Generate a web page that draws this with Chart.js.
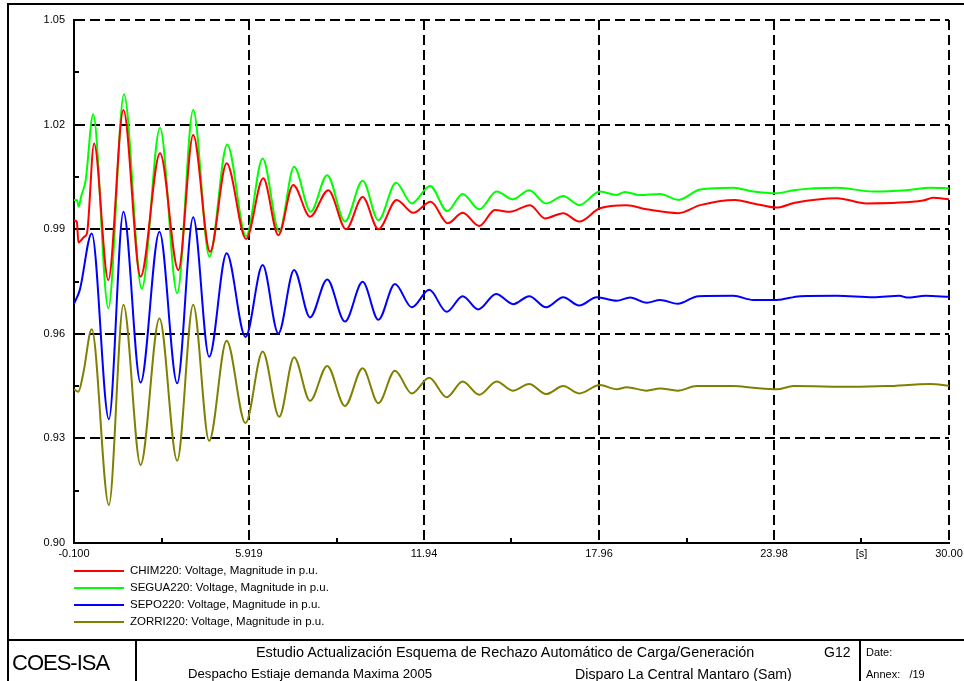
<!DOCTYPE html>
<html>
<head>
<meta charset="utf-8">
<script src="https://cdn.jsdelivr.net/npm/chart.js@4.4.1/dist/chart.umd.min.js"></script>
<style>
body{margin:0;background:#fff;}
#hoja{position:relative;width:964px;height:681px;overflow:hidden;font-family:"Liberation Sans",Arial,sans-serif;color:#000;}
#grafica{position:absolute;left:0;top:0;}
.linea{position:absolute;background:#000;}
.txt{position:absolute;white-space:nowrap;line-height:1;}
</style>
</head>
<body>
<div id="hoja">
  <canvas id="grafica" width="964" height="681"></canvas>
  <div class="linea" style="left:7px;top:3px;width:957px;height:2px"></div>
  <div class="linea" style="left:7px;top:3px;width:2px;height:678px"></div>
  <div class="linea" style="left:7px;top:639px;width:957px;height:2px"></div>
  <div class="linea" style="left:135px;top:639px;width:2px;height:42px"></div>
  <div class="linea" style="left:859px;top:639px;width:2px;height:42px"></div>
  <div class="txt" style="left:12px;top:652px;font-size:22px;letter-spacing:-1px">COES-ISA</div>
  <div class="txt" style="left:256px;top:645px;font-size:14.4px">Estudio Actualización Esquema de Rechazo Automático de Carga/Generación</div>
  <div class="txt" style="left:824px;top:645px;font-size:14px">G12</div>
  <div class="txt" style="left:188px;top:667px;font-size:13.2px">Despacho Estiaje demanda Maxima 2005</div>
  <div class="txt" style="left:575px;top:667px;font-size:14.2px">Disparo La Central Mantaro (Sam)</div>
  <div class="txt" style="left:866px;top:647px;font-size:11px">Date:</div>
  <div class="txt" style="left:866px;top:669px;font-size:11px">Annex:&nbsp;&nbsp;&nbsp;/19</div>
</div>
<script>
// tiempos en segundos y tensiones en p.u. de cada barra
var chimT = [-0.1, 0.0, 0.05, 0.25, 0.35, 0.59, 1.08, 1.60, 2.19, 2.86, 3.49, 4.00, 4.58, 5.15, 5.82, 6.41, 6.93, 7.44, 8.02, 8.65, 9.26, 9.83, 10.37, 11.00, 11.57, 12.17, 12.76, 13.27, 13.84, 14.38, 14.90, 15.59, 16.10, 16.73, 17.28, 17.99, 18.91, 19.60, 20.69, 21.44, 22.64, 23.27, 24.07, 24.70, 26.14, 27.17, 29.11, 29.45, 30.0];
var chimV = [0.9926, 0.9920, 0.9862, 0.9878, 0.9890, 1.0146, 0.9754, 1.0242, 0.9764, 1.0118, 0.9783, 1.0170, 0.9835, 1.0089, 0.9872, 1.0046, 0.9883, 1.0027, 0.9936, 1.0012, 0.9900, 0.9992, 0.9900, 0.9984, 0.9947, 0.9979, 0.9917, 0.9947, 0.9909, 0.9955, 0.9950, 0.9969, 0.9931, 0.9946, 0.9922, 0.9960, 0.9969, 0.9957, 0.9946, 0.9969, 0.9984, 0.9974, 0.9962, 0.9976, 0.9989, 0.9974, 0.9982, 0.9990, 0.9986];

var seguaT = [-0.1, 0.0, 0.06, 0.15, 0.30, 0.56, 1.08, 1.62, 2.23, 2.86, 3.45, 4.00, 4.56, 5.17, 5.82, 6.39, 6.96, 7.47, 8.04, 8.61, 9.22, 9.83, 10.37, 10.98, 11.52, 12.15, 12.74, 13.27, 13.84, 14.44, 14.99, 15.56, 16.14, 16.73, 17.28, 17.99, 18.57, 18.85, 19.37, 20.06, 20.69, 21.44, 22.58, 23.27, 24.07, 24.65, 26.14, 27.40, 28.55, 29.35, 30.0];
var seguaV = [0.9984, 0.9984, 0.9965, 0.9995, 1.0040, 1.0230, 0.9673, 1.0287, 0.9729, 1.0191, 0.9716, 1.0242, 0.9821, 1.0143, 0.9880, 1.0103, 0.9893, 1.0079, 0.9950, 1.0055, 0.9922, 1.0039, 0.9926, 1.0033, 0.9974, 1.0024, 0.9952, 1.0001, 0.9957, 1.0008, 0.9986, 1.0012, 0.9974, 0.9995, 0.9969, 1.0008, 0.9998, 1.0007, 0.9998, 1.0001, 0.9984, 1.0014, 1.0019, 1.0008, 1.0003, 1.0012, 1.0019, 1.0008, 1.0012, 1.0019, 1.0017];

var sepoT = [-0.1, 0.10, 0.51, 1.10, 1.60, 2.19, 2.84, 3.45, 4.00, 4.55, 5.15, 5.80, 6.39, 6.93, 7.47, 8.02, 8.61, 9.22, 9.83, 10.37, 10.94, 11.52, 12.12, 12.72, 13.27, 13.81, 14.42, 15.01, 15.56, 16.14, 16.73, 17.28, 17.88, 18.57, 19.03, 19.60, 20.06, 20.67, 21.38, 22.58, 23.27, 24.07, 24.88, 26.14, 27.40, 28.30, 28.55, 29.20, 30.0];
var sepoV = [0.9686, 0.9726, 0.9888, 0.9355, 0.9950, 0.9460, 0.9893, 0.9458, 0.9934, 0.9534, 0.9831, 0.9591, 0.9797, 0.9601, 0.9783, 0.9647, 0.9756, 0.9635, 0.9749, 0.9640, 0.9743, 0.9676, 0.9726, 0.9663, 0.9708, 0.9670, 0.9714, 0.9685, 0.9708, 0.9676, 0.9705, 0.9681, 0.9705, 0.9695, 0.9704, 0.9689, 0.9697, 0.9686, 0.9708, 0.9709, 0.9697, 0.9697, 0.9708, 0.9709, 0.9705, 0.9709, 0.9704, 0.9709, 0.9706];

var zorriT = [-0.1, 0.05, 0.22, 0.51, 1.10, 1.60, 2.19, 2.84, 3.45, 4.00, 4.55, 5.15, 5.80, 6.39, 6.96, 7.47, 8.02, 8.61, 9.22, 9.83, 10.37, 10.94, 11.52, 12.12, 12.72, 13.27, 13.84, 14.44, 14.99, 15.56, 16.14, 16.73, 17.28, 17.99, 18.57, 18.91, 19.60, 20.06, 20.67, 21.32, 22.58, 23.27, 24.07, 24.65, 26.70, 27.85, 29.35, 30.0];
var zorriV = [0.9441, 0.9434, 0.9487, 0.9613, 0.9109, 0.9683, 0.9224, 0.9644, 0.9236, 0.9683, 0.9293, 0.9580, 0.9344, 0.9549, 0.9362, 0.9533, 0.9408, 0.9508, 0.9393, 0.9501, 0.9401, 0.9494, 0.9429, 0.9474, 0.9418, 0.9463, 0.9425, 0.9463, 0.9437, 0.9456, 0.9427, 0.9450, 0.9429, 0.9453, 0.9441, 0.9447, 0.9437, 0.9443, 0.9437, 0.9450, 0.9450, 0.9445, 0.9441, 0.9450, 0.9448, 0.9450, 0.9456, 0.9451];

var nombres = ['CHIM220: Voltage, Magnitude in p.u.', 'SEGUA220: Voltage, Magnitude in p.u.', 'SEPO220: Voltage, Magnitude in p.u.', 'ZORRI220: Voltage, Magnitude in p.u.'];
var colores = ['#ff0000', '#00ff00', '#0000ff', '#808000'];

// marcas del eje x (las vacias son las divisiones menores)
var xMarcas = [-0.1, 2.91, 5.919, 8.93, 11.94, 14.95, 17.96, 20.97, 23.98, 26.99, 30.0];
var xEtiquetas = ['-0.100', '', '5.919', '', '11.94', '', '17.96', '', '23.98', '[s]', '30.00'];
var yMarcas = [0.90, 0.915, 0.93, 0.945, 0.96, 0.975, 0.99, 1.005, 1.02, 1.035, 1.05];
var yEtiquetas = ['0.90', '', '0.93', '', '0.96', '', '0.99', '', '1.02', '', '1.05'];

function puntos(t, v){
    var lista = [];
    for(var i = 0; i < t.length; i++){
        lista.push({x: t[i], y: v[i]});
    }
    return lista;
}

function esMayor(etiquetas, i){
    return etiquetas[i] !== '' && etiquetas[i] !== '[s]';
}

// divisiones menores hacia dentro y leyenda de curvas
const extras = {
    id: 'extras',
    afterDraw(chart){
        const ctx = chart.ctx;
        const area = chart.chartArea;
        const sx = chart.scales.x, sy = chart.scales.y;
        ctx.save();
        ctx.strokeStyle = '#000';
        ctx.lineWidth = 2;
        ctx.beginPath();
        xMarcas.forEach(function(v, i){
            if(esMayor(xEtiquetas, i)) return;
            const px = Math.round(sx.getPixelForValue(v));
            ctx.moveTo(px, area.bottom);
            ctx.lineTo(px, area.bottom - 5);
        });
        yMarcas.forEach(function(v, i){
            if(yEtiquetas[i] !== '') return;
            const py = Math.round(sy.getPixelForValue(v));
            ctx.moveTo(area.left, py);
            ctx.lineTo(area.left + 5, py);
        });
        ctx.stroke();

        ctx.font = '11.5px "Liberation Sans", Arial, sans-serif';
        ctx.textBaseline = 'middle';
        ctx.fillStyle = '#000';
        chart.data.datasets.forEach(function(ds, i){
            const y = area.bottom + 28 + i * 17;
            ctx.strokeStyle = ds.borderColor;
            ctx.lineWidth = 2;
            ctx.beginPath();
            ctx.moveTo(area.left, y);
            ctx.lineTo(area.left + 50, y);
            ctx.stroke();
            ctx.fillText(ds.label, area.left + 56, y);
        });
        ctx.restore();
    }
};

var series = [[chimT, chimV], [seguaT, seguaV], [sepoT, sepoV], [zorriT, zorriV]];
var datasets = series.map(function(s, i){
    return {
        label: nombres[i],
        data: puntos(s[0], s[1]),
        borderColor: colores[i],
        backgroundColor: colores[i],
        borderWidth: 2,
        pointRadius: 0,
        fill: false,
        cubicInterpolationMode: 'monotone'
    };
});

const ctx = document.getElementById('grafica').getContext('2d');
const chart = new Chart(ctx, {
    type: 'line',
    data: { datasets: datasets },
    options: {
        responsive: false,
        animation: false,
        devicePixelRatio: 1,
        layout: { padding: { left: 0, top: 20, right: 0, bottom: 0 } },
        plugins: { legend: { display: false }, tooltip: { enabled: false } },
        scales: {
            x: {
                type: 'linear',
                min: -0.1,
                max: 30.0,
                afterBuildTicks: function(scale){
                    scale.ticks = xMarcas.map(function(v){ return {value: v}; });
                },
                afterFit: function(scale){
                    scale.height = 138;
                    scale.paddingLeft = 0;
                    scale.paddingRight = 15;
                },
                ticks: {
                    autoSkip: false,
                    maxRotation: 0,
                    padding: 4,
                    color: '#000',
                    font: { family: '"Liberation Sans", Arial, sans-serif', size: 11 },
                    callback: function(v, i){ return xEtiquetas[i]; }
                },
                grid: {
                    drawTicks: false,
                    lineWidth: 2,
                    color: function(c){ return esMayor(xEtiquetas, c.index) ? '#000' : 'rgba(0,0,0,0)'; }
                },
                border: { display: true, color: '#000', width: 2, dash: [10, 5] }
            },
            y: {
                min: 0.90,
                max: 1.05,
                afterBuildTicks: function(scale){
                    scale.ticks = yMarcas.map(function(v){ return {value: v}; });
                },
                afterFit: function(scale){ scale.width = 74; },
                ticks: {
                    autoSkip: false,
                    padding: 9,
                    color: '#000',
                    font: { family: '"Liberation Sans", Arial, sans-serif', size: 11 },
                    callback: function(v, i){ return yEtiquetas[i]; }
                },
                grid: {
                    drawTicks: false,
                    lineWidth: 2,
                    color: function(c){ return yEtiquetas[c.index] !== '' ? '#000' : 'rgba(0,0,0,0)'; }
                },
                border: { display: true, color: '#000', width: 2, dash: [10, 5] }
            }
        }
    },
    plugins: [extras]
});
</script>
</body>
</html>
